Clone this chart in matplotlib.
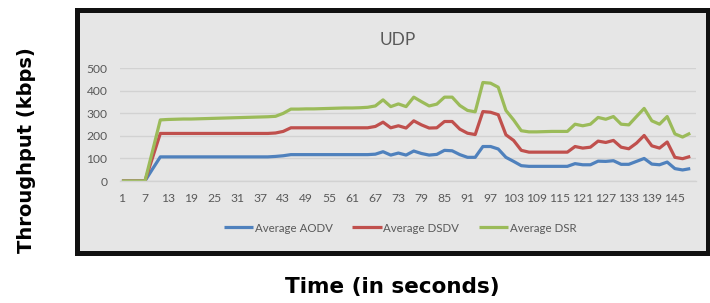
import matplotlib
matplotlib.use("Agg")
import matplotlib.pyplot as plt
from matplotlib.patches import Rectangle

# Time (seconds) at which samples were taken
times = list(range(1, 150, 2))

aodv = [0, 0, 0, 0, 54, 107, 107, 107, 107, 107, 107, 107, 107, 107, 107, 107,
        107, 107, 107, 107, 109, 112, 117, 117, 117, 117, 117, 117, 117, 117, 117,
        117, 117, 119, 130, 115, 124, 115, 133, 122, 115, 118, 136, 134, 117, 105,
        105, 153, 153, 142, 105, 87, 68, 65, 65, 65, 65, 65, 65, 77, 72, 72, 88,
        87, 90, 74, 74, 87, 100, 75, 72, 84, 55, 49, 55]
dsdv = [0, 0, 0, 0, 105, 211, 211, 211, 211, 211, 211, 211, 211, 211, 211, 211,
        211, 211, 211, 211, 213, 220, 236, 236, 236, 236, 236, 236, 236, 236, 236,
        236, 236, 242, 261, 236, 245, 235, 267, 249, 235, 236, 264, 264, 230, 212,
        206, 308, 305, 294, 205, 180, 136, 128, 128, 128, 128, 128, 128, 153, 146,
        150, 177, 171, 180, 150, 143, 168, 202, 156, 146, 173, 105, 99, 109]
dsr = [0, 0, 0, 0, 135, 271, 273, 274, 275, 275, 276, 277, 278, 279, 280, 281,
       282, 283, 284, 285, 287, 300, 319, 319, 320, 320, 321, 322, 323, 324, 324,
       325, 327, 333, 360, 330, 342, 330, 372, 352, 333, 341, 372, 372, 335, 313,
       307, 437, 434, 416, 313, 271, 223, 218, 218, 219, 220, 220, 220, 252, 245,
       252, 282, 274, 286, 252, 249, 286, 322, 267, 252, 286, 209, 195, 212]

series_names = ["Average AODV", "Average DSDV", "Average DSR"]
colors = ["#4F81BD", "#C0504D", "#9BBB59"]
xticks = list(range(1, 150, 6))
yticks = [0, 100, 200, 300, 400, 500]

W, H = 710, 303
fig = plt.figure(figsize=(W / 100, H / 100), dpi=100)
fig.patch.set_facecolor("white")

bg = "#e6e6e6"
txt = "#595959"
tick_font = "Lato"

# chart area box
box = Rectangle((77 / W, 1 - 253 / H), (708 - 77) / W, (253 - 10) / H,
                transform=fig.transFigure, facecolor=bg,
                edgecolor="#111111", linewidth=3.6, zorder=-10)
fig.add_artist(box)

ax = fig.add_axes([120 / W, 1 - 181 / H, 576 / W, (181 - 68.3) / H])
ax.set_zorder(1)
ax.set_facecolor(bg)
for name, vals, c in zip(series_names, [aodv, dsdv, dsr], colors):
    ax.plot(times, vals, color=c, lw=2.3, label=name, solid_joinstyle="round",
            solid_capstyle="butt")

ax.set_xlim(0.5, 150.5)
ax.set_ylim(0, 500)
ax.set_xticks(xticks)
ax.set_xticklabels([str(t) for t in xticks])
ax.set_yticks(yticks)
ax.grid(axis="y", color="#d2d2d2", lw=1.0)
ax.set_axisbelow(True)
for s in ["top", "right", "left"]:
    ax.spines[s].set_visible(False)
ax.spines["bottom"].set_color("#d2d2d2")
ax.spines["bottom"].set_linewidth(1.0)
ax.tick_params(axis="both", length=0, colors=txt, labelsize=8.7)
ax.tick_params(axis="x", pad=9)
ax.tick_params(axis="y", pad=9)
for lab in ax.get_xticklabels() + ax.get_yticklabels():
    lab.set_family(tick_font)

fig.text(398 / W, 1 - 40 / H, "UDP", ha="center", va="center", fontsize=12.5,
         color=txt, family=tick_font)

leg = fig.legend(loc="center", bbox_to_anchor=(400 / W, 1 - 228 / H), ncol=3,
                 frameon=False, handlelength=2.55, columnspacing=1.7,
                 handletextpad=0.15, prop={"family": tick_font, "size": 8.3})
for t in leg.get_texts():
    t.set_color(txt)
for h in leg.get_lines():
    h.set_linewidth(2.3)

fig.text(27 / W, 1 - 150 / H, "Throughput (kbps)", rotation=90, ha="center",
         va="center", fontsize=14, fontweight="bold", color="black",
         family="DejaVu Sans")
fig.text(392 / W, 1 - 287 / H, "Time (in seconds)", ha="center", va="center",
         fontsize=15.5, fontweight="bold", color="black", family="DejaVu Sans")

fig.savefig("out.png", dpi=100, facecolor="white")
